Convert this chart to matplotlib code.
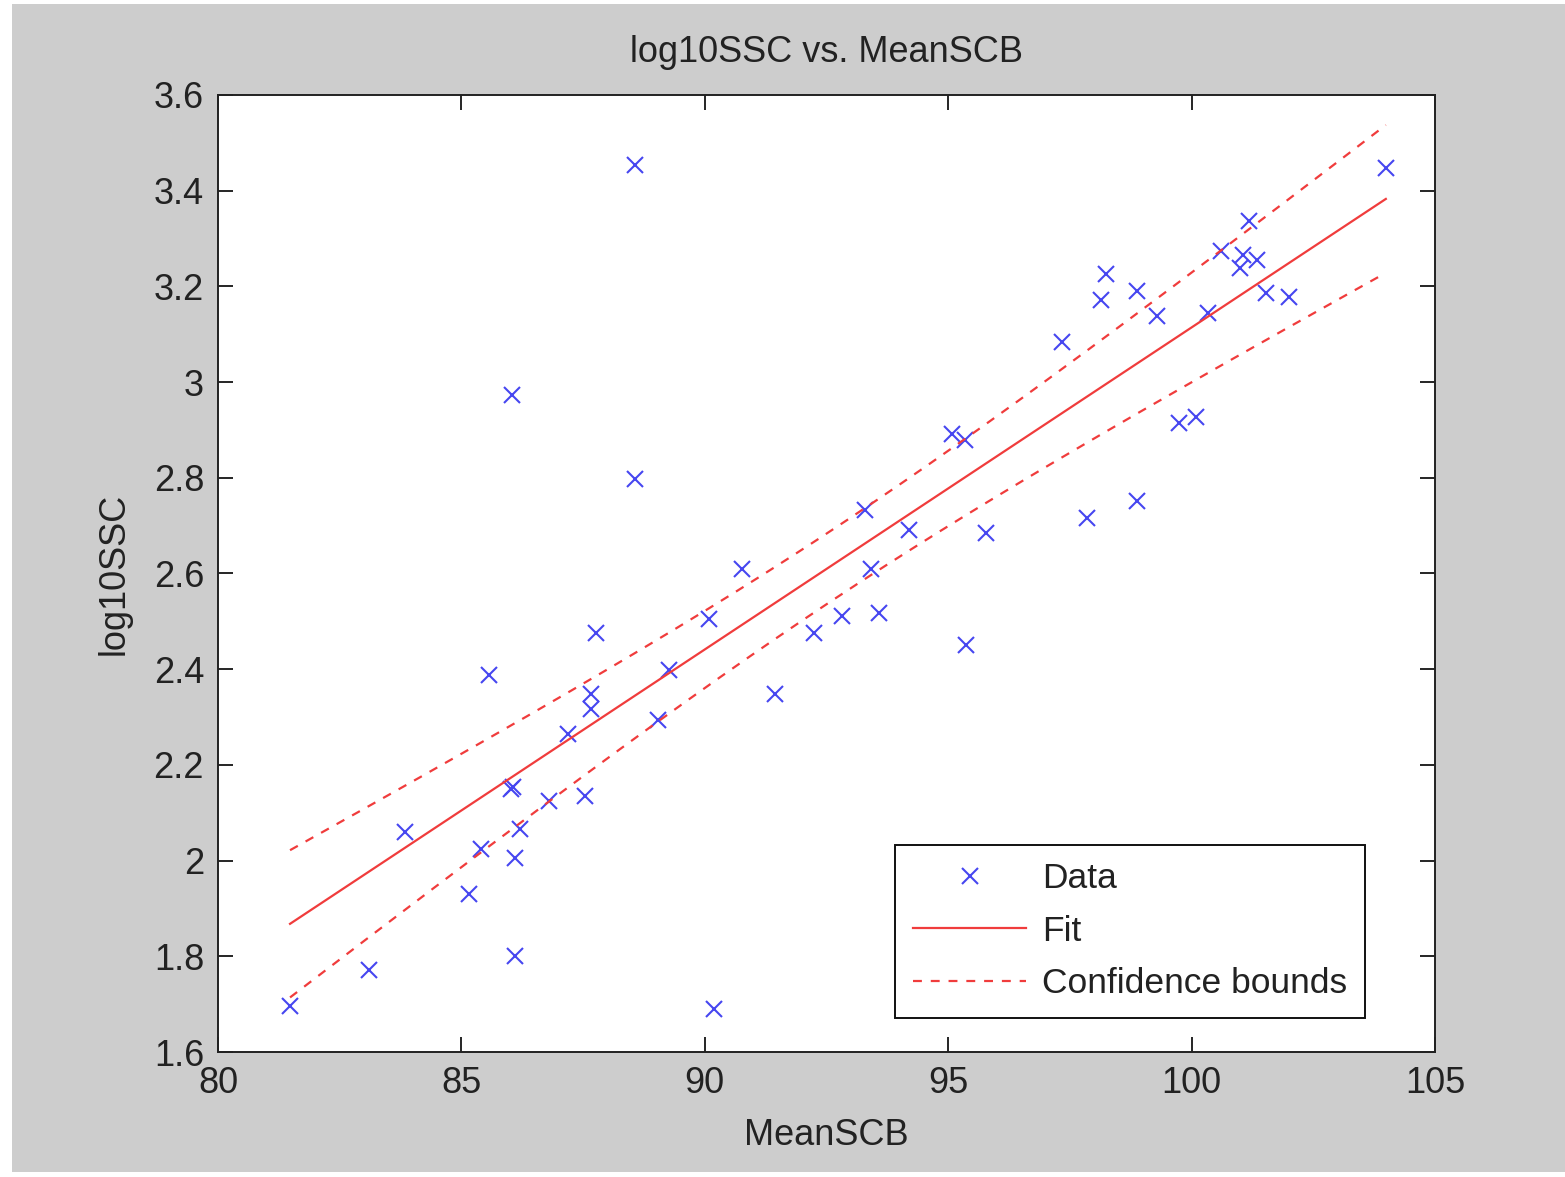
import numpy as np
import matplotlib
matplotlib.use('Agg')
from matplotlib import pyplot as plt
from matplotlib.patches import Rectangle

# data
mean_scb = [81.48, 83.10, 83.84, 85.16, 85.40, 85.57, 86.04, 86.02, 86.06, 86.10,
            86.20, 86.10, 86.80, 87.19, 87.54, 87.66, 87.66, 87.77, 88.57, 88.57,
            89.04, 89.26, 90.09, 90.19, 90.76, 91.44, 92.24, 92.82, 93.29, 93.41,
            93.58, 94.19, 95.08, 95.35, 95.37, 95.78, 97.34, 97.85, 98.14, 98.24,
            98.88, 98.88, 99.29, 99.74, 100.09, 100.34, 100.60, 100.99, 101.06, 101.18,
            101.34, 101.53, 102.00, 103.99]
log10_ssc = [1.696, 1.771, 2.060, 1.930, 2.024, 2.388, 2.973, 2.150, 2.154, 2.005,
             2.066, 1.801, 2.125, 2.265, 2.135, 2.348, 2.317, 2.476, 3.454, 2.797,
             2.294, 2.398, 2.505, 1.690, 2.609, 2.348, 2.476, 2.511, 2.733, 2.609,
             2.517, 2.691, 2.892, 2.879, 2.451, 2.685, 3.084, 2.716, 3.172, 3.226,
             3.190, 2.752, 3.138, 2.915, 2.927, 3.144, 3.274, 3.238, 3.266, 3.337,
             3.255, 3.186, 3.178, 3.447]
x_ticks = [80, 85, 90, 95, 100, 105]
y_ticks = [1.6, 1.8, 2.0, 2.2, 2.4, 2.6, 2.8, 3.0, 3.2, 3.4, 3.6]
y_tick_labels = ['1.6', '1.8', '2', '2.2', '2.4', '2.6', '2.8', '3', '3.2', '3.4', '3.6']
t_val = 2.0066  # 95% two-sided, df = n - 2

################################################################################
### linear fit + confidence bounds of the fitted mean
################################################################################
x = np.array(mean_scb)
y = np.array(log10_ssc)
n = len(x)
slope, icept = np.polyfit(x, y, 1)
resid = y - (slope * x + icept)
s = np.sqrt(np.sum(resid ** 2) / (n - 2))
sxx = np.sum((x - x.mean()) ** 2)
xf = np.linspace(x.min(), x.max(), 200)
yf = slope * xf + icept
half = t_val * s * np.sqrt(1.0 / n + (xf - x.mean()) ** 2 / sxx)

plt.rcParams['font.family'] = ['Liberation Sans', 'DejaVu Sans']
txt_col = '#222222'

fig = plt.figure(figsize=(15.65, 11.77), dpi=100, facecolor='white')
fig.patches.append(Rectangle((12 / 1565, 5 / 1177), 1 - 12 / 1565, 1 - 9 / 1177,
                             transform=fig.transFigure, facecolor='#cdcdcd',
                             edgecolor='none', zorder=-5))
ax = fig.add_axes([218 / 1565, 125 / 1177, 1217 / 1565, 957 / 1177])
ax.set_zorder(1)
ax.set_facecolor('white')

ax.plot(x, y, 'x', color='#4646f0', markersize=11, markeredgewidth=1.5, label='Data')
ax.plot(xf, yf, '-', color='#f03c3c', lw=1.6, label='Fit')
ax.plot(xf, yf + half, '--', color='#f03c3c', lw=1.6, dashes=(4, 4), label='Confidence bounds')
ax.plot(xf, yf - half, '--', color='#f03c3c', lw=1.6, dashes=(4, 4))

ax.set_xlim(80, 105)
ax.set_ylim(1.6, 3.6)
ax.set_xticks(x_ticks)
ax.set_yticks(y_ticks)
ax.set_yticklabels(y_tick_labels)
ax.tick_params(direction='in', length=11, width=1.2, top=True, right=True,
               labelsize=26, labelcolor=txt_col)
ax.tick_params(axis='x', pad=10)
ax.tick_params(axis='y', pad=10)
for sp in ax.spines.values():
    sp.set_linewidth(1.4)
    sp.set_color('#222222')

ax.set_title('log10SSC vs. MeanSCB', fontsize=26, color=txt_col, pad=24)
ax.set_xlabel('MeanSCB', fontsize=26, color=txt_col, labelpad=12)
ax.set_ylabel('log10SSC', fontsize=26, color=txt_col, labelpad=16)

leg = ax.legend(loc='lower right', bbox_to_anchor=(0.9425, 0.0355), borderaxespad=0,
                fontsize=25.5, fancybox=False, edgecolor='#111111', framealpha=1,
                handlelength=3.2, handletextpad=0.45, labelspacing=0.55, borderpad=0.5)
leg.get_frame().set_linewidth(1.4)
for t in leg.get_texts():
    t.set_color(txt_col)

fig.savefig('out.png', dpi=100, facecolor=fig.get_facecolor())
